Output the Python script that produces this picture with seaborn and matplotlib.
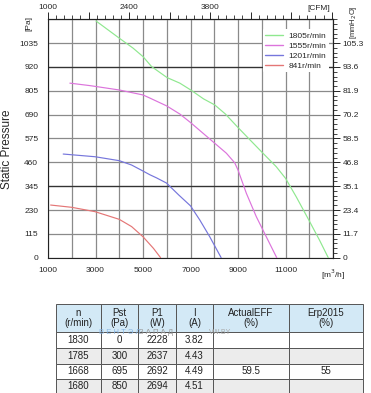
"""
Curvas de presion estatica del ventilador + tabla de datos
"""
import numpy as np
import pandas as pd
import matplotlib
matplotlib.use('Agg')
import matplotlib.pyplot as plt
from matplotlib.lines import Line2D
from matplotlib.ticker import FixedLocator, MultipleLocator, FuncFormatter
import seaborn as sns

# Curvas (caudal m3/h, presion Pa)
speeds = ['1805r/min', '1555r/min', '1201r/min', '841r/min']
colors = ['#8fe88f', '#dc74dc', '#7676dc', '#e47676']

flow_1805 = [3020, 4000, 4580, 5000, 5360, 6010, 6550, 7010, 7550, 8020, 8470, 9000,
             9490, 10050, 10610, 11000, 11450, 11980, 12430, 12800]
pst_1805 = [1142, 1059, 1011, 970, 922, 869, 842, 809, 766, 737, 693, 628,
            570, 504, 439, 383, 294, 182, 85, 0]

flow_1555 = [1920, 2770, 4000, 5000, 5290, 6000, 6550, 7000, 7530, 7990, 8510, 8860,
             9000, 9350, 9770, 10190, 10630]
pst_1555 = [842, 830, 809, 785, 770, 732, 693, 652, 600, 555, 504, 458,
            423, 311, 198, 101, 0]

flow_1201 = [1640, 2980, 4000, 4520, 5000, 5290, 5570, 5990, 6500, 7000, 7390, 7810, 8290]
pst_1201 = [500, 487, 468, 447, 418, 400, 385, 360, 303, 250, 182, 101, 0]

flow_841 = [1110, 2000, 2980, 4000, 4520, 5000, 5440, 5740]
pst_841 = [254, 243, 222, 185, 150, 101, 45, 0]

# Tabla
col_labels = ['n\n(r/min)', 'Pst\n(Pa)', 'P1\n(W)', 'I\n(A)', 'ActualEFF\n(%)', 'Erp2015\n(%)']
n_vals = ['1830', '1785', '1668', '1680']
pst_vals = ['0', '300', '695', '850']
p1_vals = ['2228', '2637', '2692', '2694']
i_vals = ['3.82', '4.43', '4.49', '4.51']
eff_vals = ['', '', '59.5', '']
erp_vals = ['', '', '55', '']

df = pd.concat([
    pd.DataFrame({'flow': flow_1805, 'pst': pst_1805, 'speed': speeds[0]}),
    pd.DataFrame({'flow': flow_1555, 'pst': pst_1555, 'speed': speeds[1]}),
    pd.DataFrame({'flow': flow_1201, 'pst': pst_1201, 'speed': speeds[2]}),
    pd.DataFrame({'flow': flow_841, 'pst': pst_841, 'speed': speeds[3]}),
])

sns.set_style('white')
plt.rcParams['font.family'] = ['Liberation Sans', 'DejaVu Sans']

fig = plt.figure(figsize=(3.71, 3.93), dpi=100)
ax = fig.add_axes([0.1294, 0.3443, 0.7682, 0.6066])

sns.lineplot(data=df, x='flow', y='pst', hue='speed', hue_order=speeds,
             palette=dict(zip(speeds, colors)), sort=False, estimator=None,
             linewidth=0.85, legend=False, ax=ax, zorder=3)

ax.set_xlim(1000, 13000)
ax.set_ylim(0, 1150)
ax.set_xlabel('')
ax.set_ylabel('')

# ejes principales
ax.xaxis.set_major_locator(MultipleLocator(1000))
ax.xaxis.set_minor_locator(MultipleLocator(200))
ax.xaxis.set_major_formatter(FuncFormatter(
    lambda v, p: '[m$^3$/h]' if round(v) == 13000 else (f'{int(v)}' if round(v) % 2000 == 1000 else '')))
ax.yaxis.set_major_locator(MultipleLocator(115))
ax.yaxis.set_minor_locator(MultipleLocator(23))
ax.yaxis.set_major_formatter(FuncFormatter(lambda v, p: f'{int(round(v))}' if v < 1100 else ''))
ax.tick_params(axis='both', which='major', direction='out', length=5, width=0.7,
               labelsize=6, pad=2, color='#222222')
ax.tick_params(axis='both', which='minor', direction='out', length=3, width=0.6, color='#222222')

ax.grid(True, which='major', color='#8a8a8a', linewidth=0.9)
for yv in [345, 920]:
    ax.axhline(yv, color='#333333', linewidth=0.9, zorder=1)
for s in ax.spines.values():
    s.set_color('#222222')
    s.set_linewidth(0.8)

# eje superior CFM
m2c = lambda m: 1000 + (np.asarray(m) - 1000) / 2.437
c2m = lambda c: 1000 + (np.asarray(c) - 1000) * 2.437
top = ax.secondary_xaxis('top', functions=(m2c, c2m))
top.xaxis.set_major_locator(FixedLocator(np.arange(1000, 5950, 700)))
top.xaxis.set_minor_locator(FixedLocator(np.arange(1000, 5950, 140)))
top.xaxis.set_major_formatter(FuncFormatter(
    lambda v, p: f'{int(round(v))}' if int(round(v)) in (1000, 2400, 3800) else ''))
top.tick_params(which='major', direction='out', length=5, width=0.7, labelsize=6, pad=1)
top.tick_params(which='minor', direction='out', length=3, width=0.6)

# eje derecho mmH2O
p2mm = lambda p: np.asarray(p) * 11.7 / 115
mm2p = lambda mm: np.asarray(mm) * 115 / 11.7
right = ax.secondary_yaxis('right', functions=(p2mm, mm2p))
right.yaxis.set_major_locator(FixedLocator(np.round(np.arange(0, 106, 11.7), 1)))
right.yaxis.set_minor_locator(FixedLocator(np.arange(0, 117.1, 2.34)))
right.yaxis.set_major_formatter(FuncFormatter(lambda v, p: '0' if v < 1 else f'{v:.1f}'))
right.tick_params(which='major', direction='out', length=5, width=0.7, labelsize=6, pad=2)
right.tick_params(which='minor', direction='out', length=3, width=0.6)

# leyenda
handles = [Line2D([], [], color=c, lw=1.0) for c in colors]
leg = ax.legend(handles, speeds, loc='upper right', bbox_to_anchor=(1.0, 0.975),
                fontsize=6, frameon=True, facecolor='white', edgecolor='none',
                framealpha=1, handlelength=2.2, handletextpad=0.6,
                labelspacing=0.25, borderpad=0.3)
leg.set_zorder(5)

# textos de unidades
fig.text(0.078, 0.94, '[Pa]', rotation=90, fontsize=6, ha='center', va='center')
fig.text(0.952, 0.944, '[mmH$_2$O]', rotation=90, fontsize=5.5, ha='center', va='center')
fig.text(0.858, 0.978, '[CFM]', fontsize=6, ha='center', va='center')
fig.text(0.018, 0.62, 'Static Pressure', rotation=90, fontsize=8.5, ha='center', va='center')

# tabla
tax = fig.add_axes([0.151, 0.001, 0.827, 0.2245])
tax.axis('off')
cells = [list(r) for r in zip(n_vals, pst_vals, p1_vals, i_vals, eff_vals, erp_vals)]
row_bg = ['white', '#ececec', 'white', '#ececec']
cell_colours = [[bg] * 6 for bg in row_bg]
widths = [44.7, 37.3, 38, 37, 76.3, 73.7]
widths = [w / sum(widths) for w in widths]
tbl = tax.table(cellText=cells, colLabels=col_labels, colWidths=widths,
                cellColours=cell_colours, colColours=['#d3e9f6'] * 6,
                cellLoc='center', bbox=[0, 0, 1, 1])
tbl.auto_set_font_size(False)
row_h = [28, 16, 15.7, 15, 13.7]
for (r, c), cell in tbl.get_celld().items():
    cell.set_height(row_h[r] / sum(row_h))
    cell.set_edgecolor('#555555')
    cell.set_linewidth(0.7)
    cell.get_text().set_fontsize(7)
    cell.get_text().set_color('#222222')
    if r == 0:
        cell.get_text().set_linespacing(1.0)

# marca de agua
fig.text(0.268, 0.155, 'В Е Н Т Э Л', fontsize=5.5, color='#8cb8e4', ha='left', va='center')
fig.text(0.375, 0.155, 'З А П А Д', fontsize=5.5, color='#9a9a9a', ha='left', va='center')
fig.text(0.562, 0.155, 'VW.BY', fontsize=5, color='#a8a8a8', ha='left', va='center')

fig.savefig('out.png', dpi=100)
plt.close(fig)
